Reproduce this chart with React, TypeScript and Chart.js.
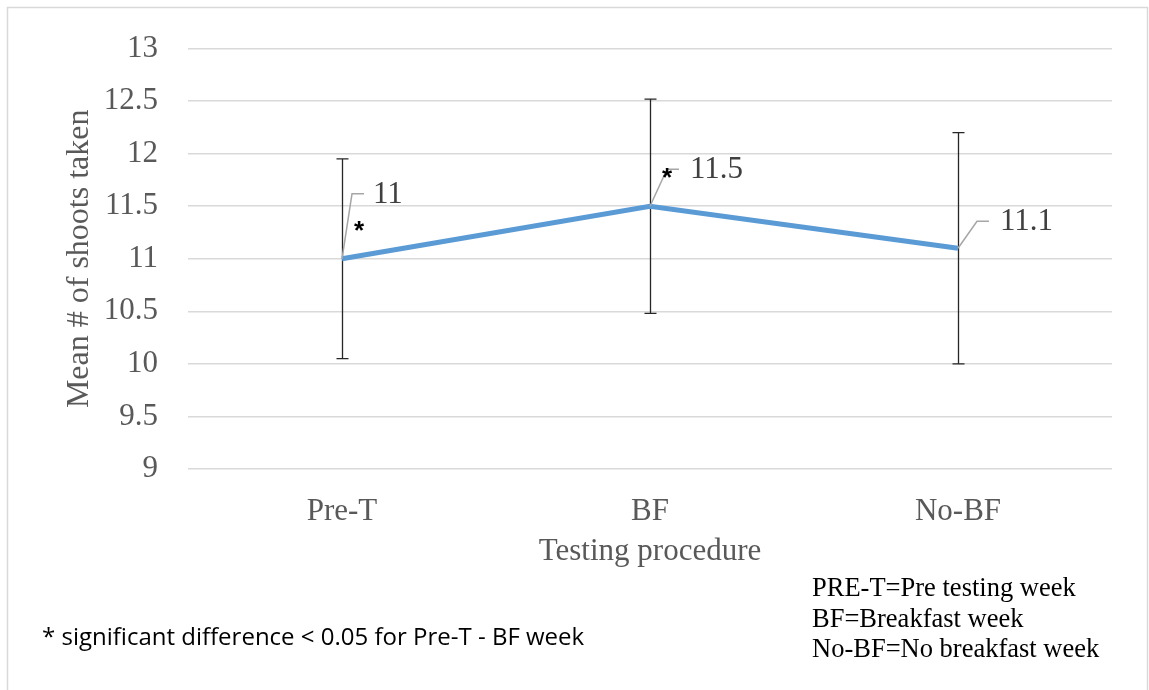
import React, { useEffect, useRef } from "react";
import { Chart, registerables } from "chart.js";

Chart.register(...registerables);

const categories = ["Pre-T", "BF", "No-BF"];
const meanShots = [11, 11.5, 11.1];
const errorMargins = [0.95, 1.02, 1.1];
const significant = [true, true, false];
const yMin = 9;
const yMax = 13;
const yStep = 0.5;
const xTitle = "Testing procedure";
const yTitle = "Mean # of shoots taken";
const notes = ["PRE-T=Pre testing week", "BF=Breakfast week", "No-BF=No breakfast week"];
const footnote = "* significant difference < 0.05 for Pre-T - BF week";

const SERIF = "'Liberation Serif', 'Times New Roman', serif";

const annotatePlugin = {
  id: "annotate",
  beforeDraw(chart: any) {
    const { ctx } = chart;
    ctx.save();
    ctx.fillStyle = "#ffffff";
    ctx.fillRect(0, 0, chart.width, chart.height);
    ctx.strokeStyle = "#D9D9D9";
    ctx.lineWidth = 1.5;
    ctx.strokeRect(7.5, 7.5, 1140, 720);
    ctx.restore();
  },
  beforeDatasetsDraw(chart: any) {
    const { ctx } = chart;
    const x = chart.scales.x;
    const y = chart.scales.y;
    ctx.save();
    ctx.strokeStyle = "#262626";
    ctx.lineWidth = 1.3;
    meanShots.forEach((m, i) => {
      const px = Math.round(x.getPixelForValue(i)) + 0.5;
      const top = y.getPixelForValue(m + errorMargins[i]);
      const bot = y.getPixelForValue(m - errorMargins[i]);
      ctx.beginPath();
      ctx.moveTo(px, top);
      ctx.lineTo(px, bot);
      ctx.moveTo(px - 6, top);
      ctx.lineTo(px + 6, top);
      ctx.moveTo(px - 6, bot);
      ctx.lineTo(px + 6, bot);
      ctx.stroke();
    });
    ctx.restore();
  },
  afterDatasetsDraw(chart: any, _args: any, opts: any) {
    const { ctx } = chart;
    const meta = chart.getDatasetMeta(0);
    ctx.save();
    meta.data.forEach((pt: any, i: number) => {
      const px = pt.x;
      const py = pt.y;
      const lay = opts.layout[i];
      ctx.strokeStyle = "#A6A6A6";
      ctx.lineWidth = 1.5;
      ctx.beginPath();
      ctx.moveTo(px, py);
      ctx.lineTo(px + lay.kx, py + lay.ky);
      ctx.lineTo(px + lay.kx + 12, py + lay.ky);
      ctx.stroke();
      ctx.fillStyle = "#404040";
      ctx.font = `31px ${SERIF}`;
      ctx.textAlign = "left";
      ctx.textBaseline = "middle";
      ctx.fillText(String(meanShots[i]), px + lay.lx, py + lay.ly);
      if (significant[i]) {
        ctx.fillStyle = "#000000";
        ctx.font = "bold 26px 'Liberation Sans', Arial, sans-serif";
        ctx.textAlign = "center";
        ctx.textBaseline = "alphabetic";
        ctx.fillText("*", px + 17, py - 35 + 15);
      }
    });
    ctx.restore();
  },
};

export default function App() {
  const canvasRef = useRef<HTMLCanvasElement | null>(null);

  useEffect(() => {
    const canvas = canvasRef.current;
    if (!canvas) return;
    const chart = new Chart(canvas, {
      type: "line",
      data: {
        labels: categories,
        datasets: [
          {
            data: meanShots,
            borderColor: "#5B9BD5",
            backgroundColor: "#5B9BD5",
            borderWidth: 5,
            pointRadius: 0,
            pointHoverRadius: 0,
            tension: 0,
            fill: false,
          },
        ],
      },
      options: {
        responsive: false,
        animation: false,
        devicePixelRatio: 1,
        layout: { padding: { left: 60, right: 37, top: 46, bottom: 120 } },
        plugins: {
          legend: { display: false },
          tooltip: { enabled: false },
          annotate: {
            layout: [
              { lx: 31, ly: -64, kx: 10, ky: -65 },
              { lx: 40, ly: -36, kx: 17, ky: -37 },
              { lx: 42, ly: -26, kx: 19, ky: -27 },
            ],
          },
        } as any,
        scales: {
          x: {
            offset: true,
            grid: { display: false, drawTicks: false },
            border: { display: false },
            ticks: {
              color: "#595959",
              font: { family: SERIF, size: 31 },
              padding: 24,
            },
            title: {
              display: true,
              text: xTitle,
              color: "#595959",
              font: { family: SERIF, size: 31 },
              padding: 0,
            },
            afterFit: (scale: any) => {
              scale.height = 101;
              scale.paddingLeft = 0;
              scale.paddingRight = 0;
            },
          },
          y: {
            min: yMin,
            max: yMax,
            grid: { color: "#D9D9D9", lineWidth: 1.5, drawTicks: false },
            border: { display: false },
            ticks: {
              stepSize: yStep,
              color: "#595959",
              font: { family: SERIF, size: 31 },
              padding: 30,
              callback: (v: any) => String(Number(v)),
            },
            title: {
              display: true,
              text: yTitle,
              color: "#595959",
              font: { family: SERIF, size: 32 },
              padding: 0,
            },
            afterFit: (scale: any) => {
              scale.width = 128;
            },
          },
        },
      },
      plugins: [annotatePlugin],
    });
    return () => chart.destroy();
  }, []);

  return (
    <div
      style={{
        position: "absolute",
        left: 0,
        top: 0,
        width: 1149,
        height: 690,
        overflow: "hidden",
        background: "#fff",
      }}
    >
      <canvas
        ref={canvasRef}
        width={1149}
        height={690}
        style={{ position: "absolute", left: 0, top: 0, width: 1149, height: 690 }}
      />
      <div
        style={{
          position: "absolute",
          left: 42,
          top: 624,
          fontFamily: "'Open Sans', 'Noto Sans', sans-serif",
          fontSize: 24,
          lineHeight: "24px",
          color: "#000",
          whiteSpace: "nowrap",
        }}
      >
        {footnote}
      </div>
      <div
        style={{
          position: "absolute",
          left: 812,
          top: 572,
          fontFamily: SERIF,
          fontSize: 26.5,
          lineHeight: "30.5px",
          color: "#000",
          whiteSpace: "nowrap",
        }}
      >
        {notes.map((n) => (
          <div key={n}>{n}</div>
        ))}
      </div>
    </div>
  );
}
